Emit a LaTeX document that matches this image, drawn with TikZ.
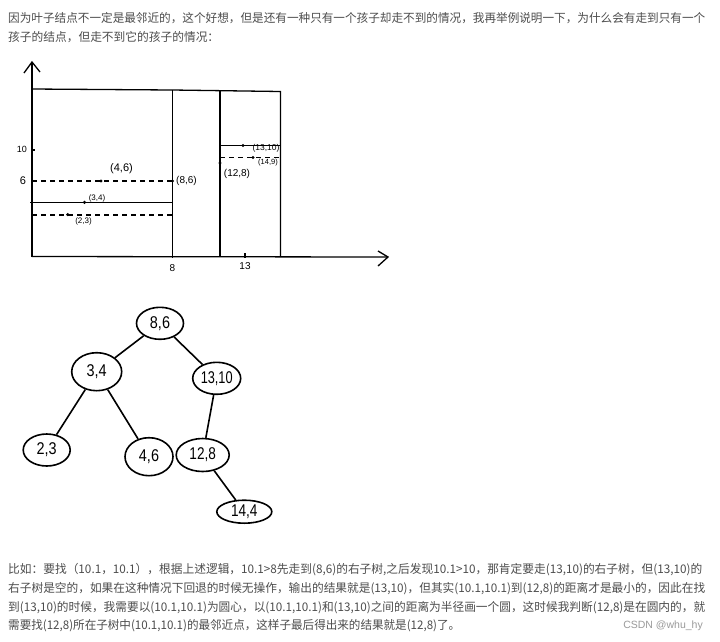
\documentclass[tikz,border=0pt]{standalone}
\usepackage{fontspec}
\usepackage{graphicx}
\setmainfont{Liberation Sans}
\newfontfamily\cjk{Noto Sans CJK SC}
\usetikzlibrary{shapes.geometric}
\definecolor{txt}{HTML}{4D4D4D}
\definecolor{wm}{HTML}{9A9A9A}
\begin{document}
\begin{tikzpicture}[x=1pt,y=-1pt,
  pen/.style={line width=1.3pt, black},
  dline/.style={pen, dash pattern=on 5pt off 4pt},
  dotm/.style={circle, fill=black, inner sep=0pt, minimum size=3.4pt},
  hand/.style={inner sep=0pt, font=\fontsize{9}{9}\selectfont},
  tnode/.style={ellipse, draw, line width=1.6pt, inner sep=0pt, font=\fontsize{17}{17}\selectfont},
  tedge/.style={line width=1.6pt},
  para/.style={anchor=west, inner sep=0pt, text=txt, font=\cjk\fontsize{11.9}{11.9}\selectfont}
]
\useasboundingbox[fill=white] (0,0) rectangle (720,641);

% ---------- top paragraph ----------
\node[para] (t1) at (8,18.5) {\resizebox{697pt}{\height}{因为叶子结点不一定是最邻近的，这个好想，但是还有一种只有一个孩子却走不到的情况，我再举例说明一下，为什么会有走到只有一个}};
\node[para] (t2) at (8,37) {\resizebox{211pt}{\height}{孩子的结点，但走不到它的孩子的情况：}};

% ---------- plot ----------
\coordinate (O) at (32,256.5);
\coordinate (Ytop) at (32,62);
\coordinate (Xend) at (388,257);
\draw[pen] (O) -- (Ytop);
\draw[pen] (24,73) -- (Ytop) -- (40,72);
\draw[pen] (O) -- (Xend);
\draw[pen] (378,251) -- (Xend) -- (378,266);

\draw[pen] (32,89) -- (172.5,90) -- (280.5,91.5) -- (280.5,256.5);
\draw[pen] (172.5,90) -- (172.5,258);
\draw[pen] (220,91) -- (220,256.5);
\draw[pen] (245,253) -- (245,258);
\draw[pen] (32,150) -- (35,150);

% right part
\draw[pen] (220,145.5) -- (280.5,145.5);
\node[dotm] (p1310) at (243,145.5) {};
\draw[dline] (220,157.5) -- (280,157.5);
\node[dotm] (p149) at (253,157.5) {};
\node[dotm] (p128) at (220,163) {};

% left part
\draw[dline] (32,181) -- (172.5,181);
\node[dotm] (p46) at (101,181) {};
\node[dotm] (p86) at (172.5,181) {};
\draw[pen] (30,202.3) -- (172.5,202.3);
\node[dotm] (p34) at (84.5,202.3) {};
\draw[dline] (32,215) -- (172.5,215);
\node[dotm] (p23) at (67.7,214.5) {};

% labels
\node[hand] (l10) at (22,149) {10};
\node[hand, font=\fontsize{11}{11}\selectfont] (l6) at (23,181) {6};
\node[hand, font=\fontsize{11}{11}\selectfont] (l46) at (121.5,169) {(4,6)};
\node[hand, font=\fontsize{10}{10}\selectfont] (l86) at (186.5,181) {(8,6)};
\node[hand, font=\fontsize{8}{8}\selectfont] (l34) at (97,198) {(3,4)};
\node[hand, font=\fontsize{8}{8}\selectfont] (l23) at (83.5,221.5) {(2,3)};
\node[hand, font=\fontsize{10}{10}\selectfont] (l128) at (237,174) {(12,8)};
\node[hand, font=\fontsize{8.5}{8.5}\selectfont] (l1310) at (266,148.5) {(13,10)};
\node[hand, font=\fontsize{7.5}{7.5}\selectfont] (l149) at (268,163) {(14,9)};
\node[hand, font=\fontsize{10}{10}\selectfont] (lx8) at (172.5,268) {8};
\node[hand, font=\fontsize{10}{10}\selectfont] (lx13) at (245,266) {13};

% ---------- tree ----------
\node[tnode, minimum width=47pt, minimum height=32pt] (n86) at (160,323.3) {\scalebox{0.85}[1]{8,6}};
\node[tnode, minimum width=50pt, minimum height=38pt] (n34) at (96.7,371.7) {\scalebox{0.85}[1]{3,4}};
\node[tnode, minimum width=48pt, minimum height=32pt] (n1310) at (216.7,378.3) {\scalebox{0.75}[1]{13,10}};
\node[tnode, minimum width=47pt, minimum height=32pt] (n23) at (46.7,450) {\scalebox{0.85}[1]{2,3}};
\node[tnode, minimum width=48pt, minimum height=38pt] (n46) at (149,456.7) {\scalebox{0.85}[1]{4,6}};
\node[tnode, minimum width=53pt, minimum height=33pt] (n128) at (202.7,455) {\scalebox{0.8}[1]{12,8}};
\node[tnode, minimum width=55pt, minimum height=23pt] (n144) at (244.3,511.7) {\scalebox{0.8}[1]{14,4}};

\draw[tedge] (n86) -- (n34);
\draw[tedge] (n86) -- (n1310);
\draw[tedge] (n34) -- (n23);
\draw[tedge] (n34) -- (n46);
\draw[tedge] (n1310) -- (n128);
\draw[tedge] (n128) -- (n144);

% ---------- bottom paragraph ----------
\node[para] (b1) at (8,570) {\resizebox{694pt}{\height}{比如：要找（10.1，10.1），根据上述逻辑，10.1>8先走到(8,6)的右子树,之后发现10.1>10，那肯定要走(13,10)的右子树，但(13,10)的}};
\node[para] (b2) at (8,588.7) {\resizebox{697pt}{\height}{右子树是空的，如果在这种情况下回退的时候无操作，输出的结果就是(13,10)，但其实(10.1,10.1)到(12,8)的距离才是最小的，因此在找}};
\node[para] (b3) at (8,607.3) {\resizebox{697pt}{\height}{到(13,10)的时候，我需要以(10.1,10.1)为圆心，以(10.1,10.1)和(13,10)之间的距离为半径画一个圆，这时候我判断(12,8)是在圆内的，就}};
\node[para] (b4) at (8,626) {\resizebox{452pt}{\height}{需要找(12,8)所在子树中(10.1,10.1)的最邻近点，这样子最后得出来的结果就是(12,8)了。}};
\node[anchor=east, inner sep=0pt, text=wm, font=\fontsize{10.5}{10.5}\selectfont] (csdn) at (703,626) {CSDN @whu\_hy};
\end{tikzpicture}
\end{document}
